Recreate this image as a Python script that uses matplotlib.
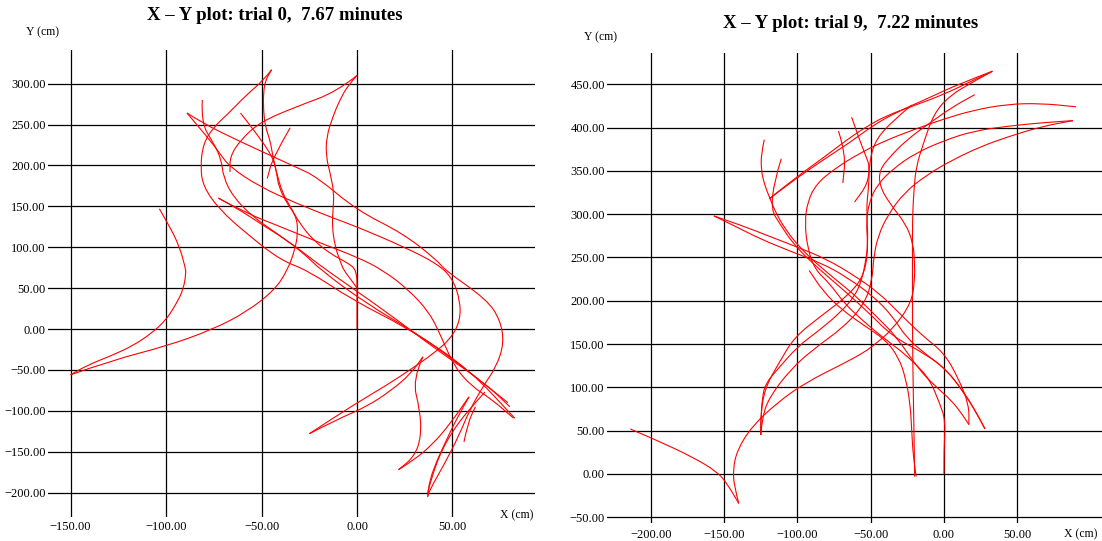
import numpy as np
import matplotlib
matplotlib.use("Agg")
import matplotlib.pyplot as plt
from matplotlib.path import Path
from matplotlib.patches import PathPatch

# walked paths, (x, y) in cm
trial0_paths = [
    [(-103.5, 147), (-98, 125), (-93, 101), (-90, 76), (-89.5, 68), (-91, 48), (-94.6, 31), (-100, 11),
     (-107.5, -5), (-117, -20), (-128, -32), (-141, -44), (-150, -56)],
    [(-150, -56), (-128, -38), (-100, -21), (-76, -1), (-57.7, 21), (-43, 48), (-36.4, 72), (-32.5, 97),
     (-31, 117), (-31.6, 137), (-36.8, 154), (-41, 174), (-42, 190), (-44, 210), (-45.5, 231), (-48, 247),
     (-49, 268), (-49, 288), (-48, 304), (-44.7, 317)],
    [(-35, 246), (-44, 210), (-47, 184)],
    [(0, 0), (0, 40), (0, 72), (-5, 81), (-14, 92), (-23, 109), (-30, 129), (-35, 150), (-39, 166),
     (-42, 190), (-44, 210), (-52, 237), (-61, 264)],
    [(-44.7, 317), (-49, 304), (-58, 286), (-68, 262), (-75, 247), (-80.5, 227), (-82, 198), (-80.5, 174),
     (-72, 146), (-58, 117), (-40, 84), (-26, 72), (-2, 35), (25, 3), (46, -29), (79, -90)],
    [(0, 310), (-10.6, 290), (-31.6, 272), (-50.8, 253), (-61, 231), (-66.5, 211), (-66.5, 192)],
    [(0, 310), (-4.7, 298), (-9, 280), (-12.6, 260), (-16, 235), (-16.2, 211), (-14, 190), (-12, 166),
     (-12.6, 145), (-13, 125), (-11.5, 101), (-9, 84), (-7, 72), (-3, 60), (0, 50)],
    [(-89, 264), (-81, 252), (-63, 231), (-32, 198), (-21, 186), (0, 145), (24, 117), (42, 84), (46, 72),
     (68, 36), (75, 11), (77, -17), (73, -46), (66, -70), (59, -99), (53, -132), (46, -164), (38, -197),
     (37, -205)],
    [(-81, 280), (-81.7, 252), (-75, 227), (-71, 207), (-70, 186), (-65, 162), (-54.5, 137), (-42, 117),
     (-28, 93), (-19, 72), (5, 31), (31, -5), (59, -50), (82.6, -109)],
    [(-89, 264), (-77, 231), (-72, 215), (-66.5, 198), (-51, 174), (-32, 154), (-14, 137), (0, 125),
     (24, 101), (42, 80), (50, 62), (54, 35), (54, 10), (49, -12), (40, -30), (29, -48), (16, -68),
     (-2, -93), (-25, -128)],
    [(-25, -128), (-10, -110), (5, -95), (18, -75), (28, -55), (34.5, -34)],
    [(34.5, -34), (29, -62), (33, -99), (33.6, -132), (30, -156), (21.7, -172)],
    [(21.7, -172), (30, -160), (40, -140), (49, -115), (58.6, -83)],
    [(58.6, -83), (52, -110), (46, -140), (42, -160), (38, -185), (37, -205)],
    [(67, -77), (58, -100), (50, -125), (44, -150), (40, -175), (37, -200)],
    [(56, -138), (58, -115), (62, -95)],
    [(-72.6, 160), (-63, 148), (-51, 129.5), (-37, 109), (-25, 88), (-16, 72), (16, 20), (42, -26),
     (67, -66), (80, -95)],
    [(-72.6, 160), (-58, 141.6), (-40, 125), (-19, 105), (0, 88), (13.6, 72), (27, 48), (38, 20),
     (44, -9), (51, -46), (60, -70), (70, -85), (82, -109)],
]

trial9_paths = [
    [(-214, 52), (-196, 39), (-172, 20), (-155, 3), (-148, -11), (-140, -34)],
    [(-140, -34), (-143, -15), (-144, 5), (-141, 28), (-131, 55), (-114, 82), (-95, 105), (-68, 128),
     (-56, 139), (-49, 147), (-35, 167), (-22, 198), (-20, 225), (-20, 243), (-21, 266), (-26, 289),
     (-37, 312), (-44, 333), (-44, 351), (-37, 366), (-26, 385), (-10, 405), (6, 424), (21, 438)],
    [(33, 465), (20, 453), (4, 437), (-7, 416), (-14, 382), (-19, 355), (-20.5, 328), (-21.5, 297),
     (-21.5, 250), (-21.5, 158), (-21, 100), (-20.5, 50), (-20, -3)],
    [(-19, -3), (-21, 20), (-22, 50), (-23, 80), (-26, 110), (-31, 135), (-40, 155), (-55, 172),
     (-70, 190), (-82, 210), (-92, 235)],
    [(33, 465), (18, 453), (-0.5, 438), (-21, 425), (-39, 414), (-53, 401), (-67, 385), (-80, 368),
     (-94, 351), (-108, 333), (-119, 318)],
    [(33, 465), (11, 451), (-12, 433), (-32, 418), (-48, 403), (-64, 383), (-83, 362), (-101, 341),
     (-119, 318)],
    [(0, 0), (0, 30), (1, 62), (-3, 82), (-10, 110), (-20, 128), (-30, 143), (-42, 158), (-56, 178),
     (-68, 197), (-78, 220), (-88, 236), (-93, 260), (-95, 290), (-93, 315), (-87, 335), (-75, 352),
     (-58, 370), (-40, 385), (-20, 398), (0, 410), (20, 420), (43, 427), (66, 428), (90, 424)],
    [(-125, 45), (-124, 66), (-119, 89), (-105, 120), (-90, 143), (-68, 170), (-54, 197), (-49, 224),
     (-48, 250), (-45, 275), (-38, 300), (-27, 325), (-12, 345), (5, 362), (25, 378), (43, 389),
     (66, 401), (88, 408)],
    [(-125, 45), (-125, 58), (-124, 89), (-121.5, 105), (-114, 120), (-100, 147), (-85, 166), (-71, 186),
     (-61, 205), (-56, 224), (-53, 250), (-52, 266), (-53, 290), (-51, 315), (-45, 335), (-35, 352),
     (-20, 370), (0, 385), (20, 396), (45, 402), (70, 406), (88, 408)],
    [(-122.6, 386), (-124.7, 370), (-124.7, 351), (-122.6, 335), (-119.2, 320), (-114.6, 301),
     (-107.8, 281.5), (-98.6, 262), (-87, 243), (-73.5, 224), (-59.8, 205), (-43.8, 178), (-32.4, 158.5),
     (-17, 120), (-5, 100), (5, 85), (12, 70), (17, 57)],
    [(-111, 364), (-115.7, 339), (-118, 305), (-112, 289), (-103, 266), (-89.5, 243), (-71, 216),
     (-53, 189), (-35, 158.5), (-13, 139), (2, 120), (14, 93), (21, 74), (28, 52)],
    [(-157, 298), (-140, 284), (-126, 272), (-106, 258), (-83, 243), (-67, 228), (-48, 205), (-35, 182),
     (-26, 158), (-13, 139), (2, 120), (14, 93), (21, 74), (28, 52)],
    [(-157, 298), (-138, 287), (-120, 275), (-100, 262), (-80, 248), (-62, 230), (-45, 210), (-30, 185),
     (-15, 160), (0, 140), (10, 110), (17, 80), (17, 57)],
    [(-63, 412), (-57.5, 385), (-53, 366), (-50.7, 355), (-51.6, 328), (-53, 305), (-51.6, 266), (-54, 231),
     (-64, 208), (-85, 181), (-102, 158), (-112, 130), (-122, 100), (-125, 70), (-125, 45)],
    [(-72, 396), (-67, 370), (-69, 336)],
    [(-22, 426), (-37, 405), (-48, 382), (-51, 355), (-52, 335), (-61, 314)],
]

trial0_xticks = [-150, -100, -50, 0, 50]
trial0_yticks = [300, 250, 200, 150, 100, 50, 0, -50, -100, -150, -200]
trial9_xticks = [-200, -150, -100, -50, 0, 50]
trial9_yticks = [450, 400, 350, 300, 250, 200, 150, 100, 50, 0, -50]

titles = ["X \u2013 Y plot: trial 0,  7.67 minutes", "X \u2013 Y plot: trial 9,  7.22 minutes"]

W, H = 1102, 541
plt.rcParams['font.family'] = ['Liberation Serif', 'DejaVu Serif']
fig = plt.figure(figsize=(W / 100, H / 100), dpi=100)


def fmt(v):
    return f"{v:.2f}".replace('-', '\u2212')


def smooth_path(pts):
    # read points act as quadratic bezier controls, so the track bends smoothly
    pts = np.asarray(pts, dtype=float)
    verts = [pts[0]]
    codes = [Path.MOVETO]
    for i in range(1, len(pts) - 1):
        verts += [pts[i], (pts[i] + pts[i + 1]) / 2]
        codes += [Path.CURVE3, Path.CURVE3]
    verts.append(pts[-1])
    codes.append(Path.LINETO)
    return Path(verts, codes)


def panel(box, xlim, ylim, xticks, yticks, paths, ypad, xpad):
    l, t, r, b = box
    ax = fig.add_axes([l / W, 1 - b / H, (r - l) / W, (b - t) / H])
    ax.set_xlim(*xlim)
    ax.set_ylim(*ylim)
    for s in ax.spines.values():
        s.set_visible(False)
    for v in xticks:
        ax.axvline(v, color='black', lw=0.9, zorder=1)
    for v in yticks:
        ax.axhline(v, color='black', lw=0.9, zorder=1)
    ax.set_xticks(xticks)
    ax.set_xticklabels([fmt(v) for v in xticks])
    ax.set_yticks(yticks)
    ax.set_yticklabels([fmt(v) for v in yticks])
    ax.tick_params(length=0, labelsize=9)
    ax.tick_params(axis='y', pad=ypad)
    ax.tick_params(axis='x', pad=xpad)
    for p in paths:
        ax.add_patch(PathPatch(smooth_path(p), fill=False, edgecolor='#ff0000', lw=0.8, zorder=2))
    return ax


panel((48, 50, 535, 517), (-161.8, 93.2), (-229.8, 341.1),
      trial0_xticks, trial0_yticks, trial0_paths, 1.5, 3)
panel((607, 53, 1102, 523), (-229.9, 107.8), (-56.6, 486.1),
      trial9_xticks, trial9_yticks, trial9_paths, 1.5, 4)


def ftext(x, y, s, **kw):
    fig.text(x / W, 1 - y / H, s, ha='center', va='center', **kw)


ftext(275, 15, titles[0], fontsize=13.5, fontweight='bold')
ftext(851, 23, titles[1], fontsize=13.5, fontweight='bold')
ftext(43, 32, "Y (cm)", fontsize=8.5)
ftext(517, 515, "X (cm)", fontsize=8.5)
ftext(600, 37, "Y (cm)", fontsize=8.5)
ftext(1081, 534, "X (cm)", fontsize=8.5)

fig.savefig("out.png", dpi=100)
